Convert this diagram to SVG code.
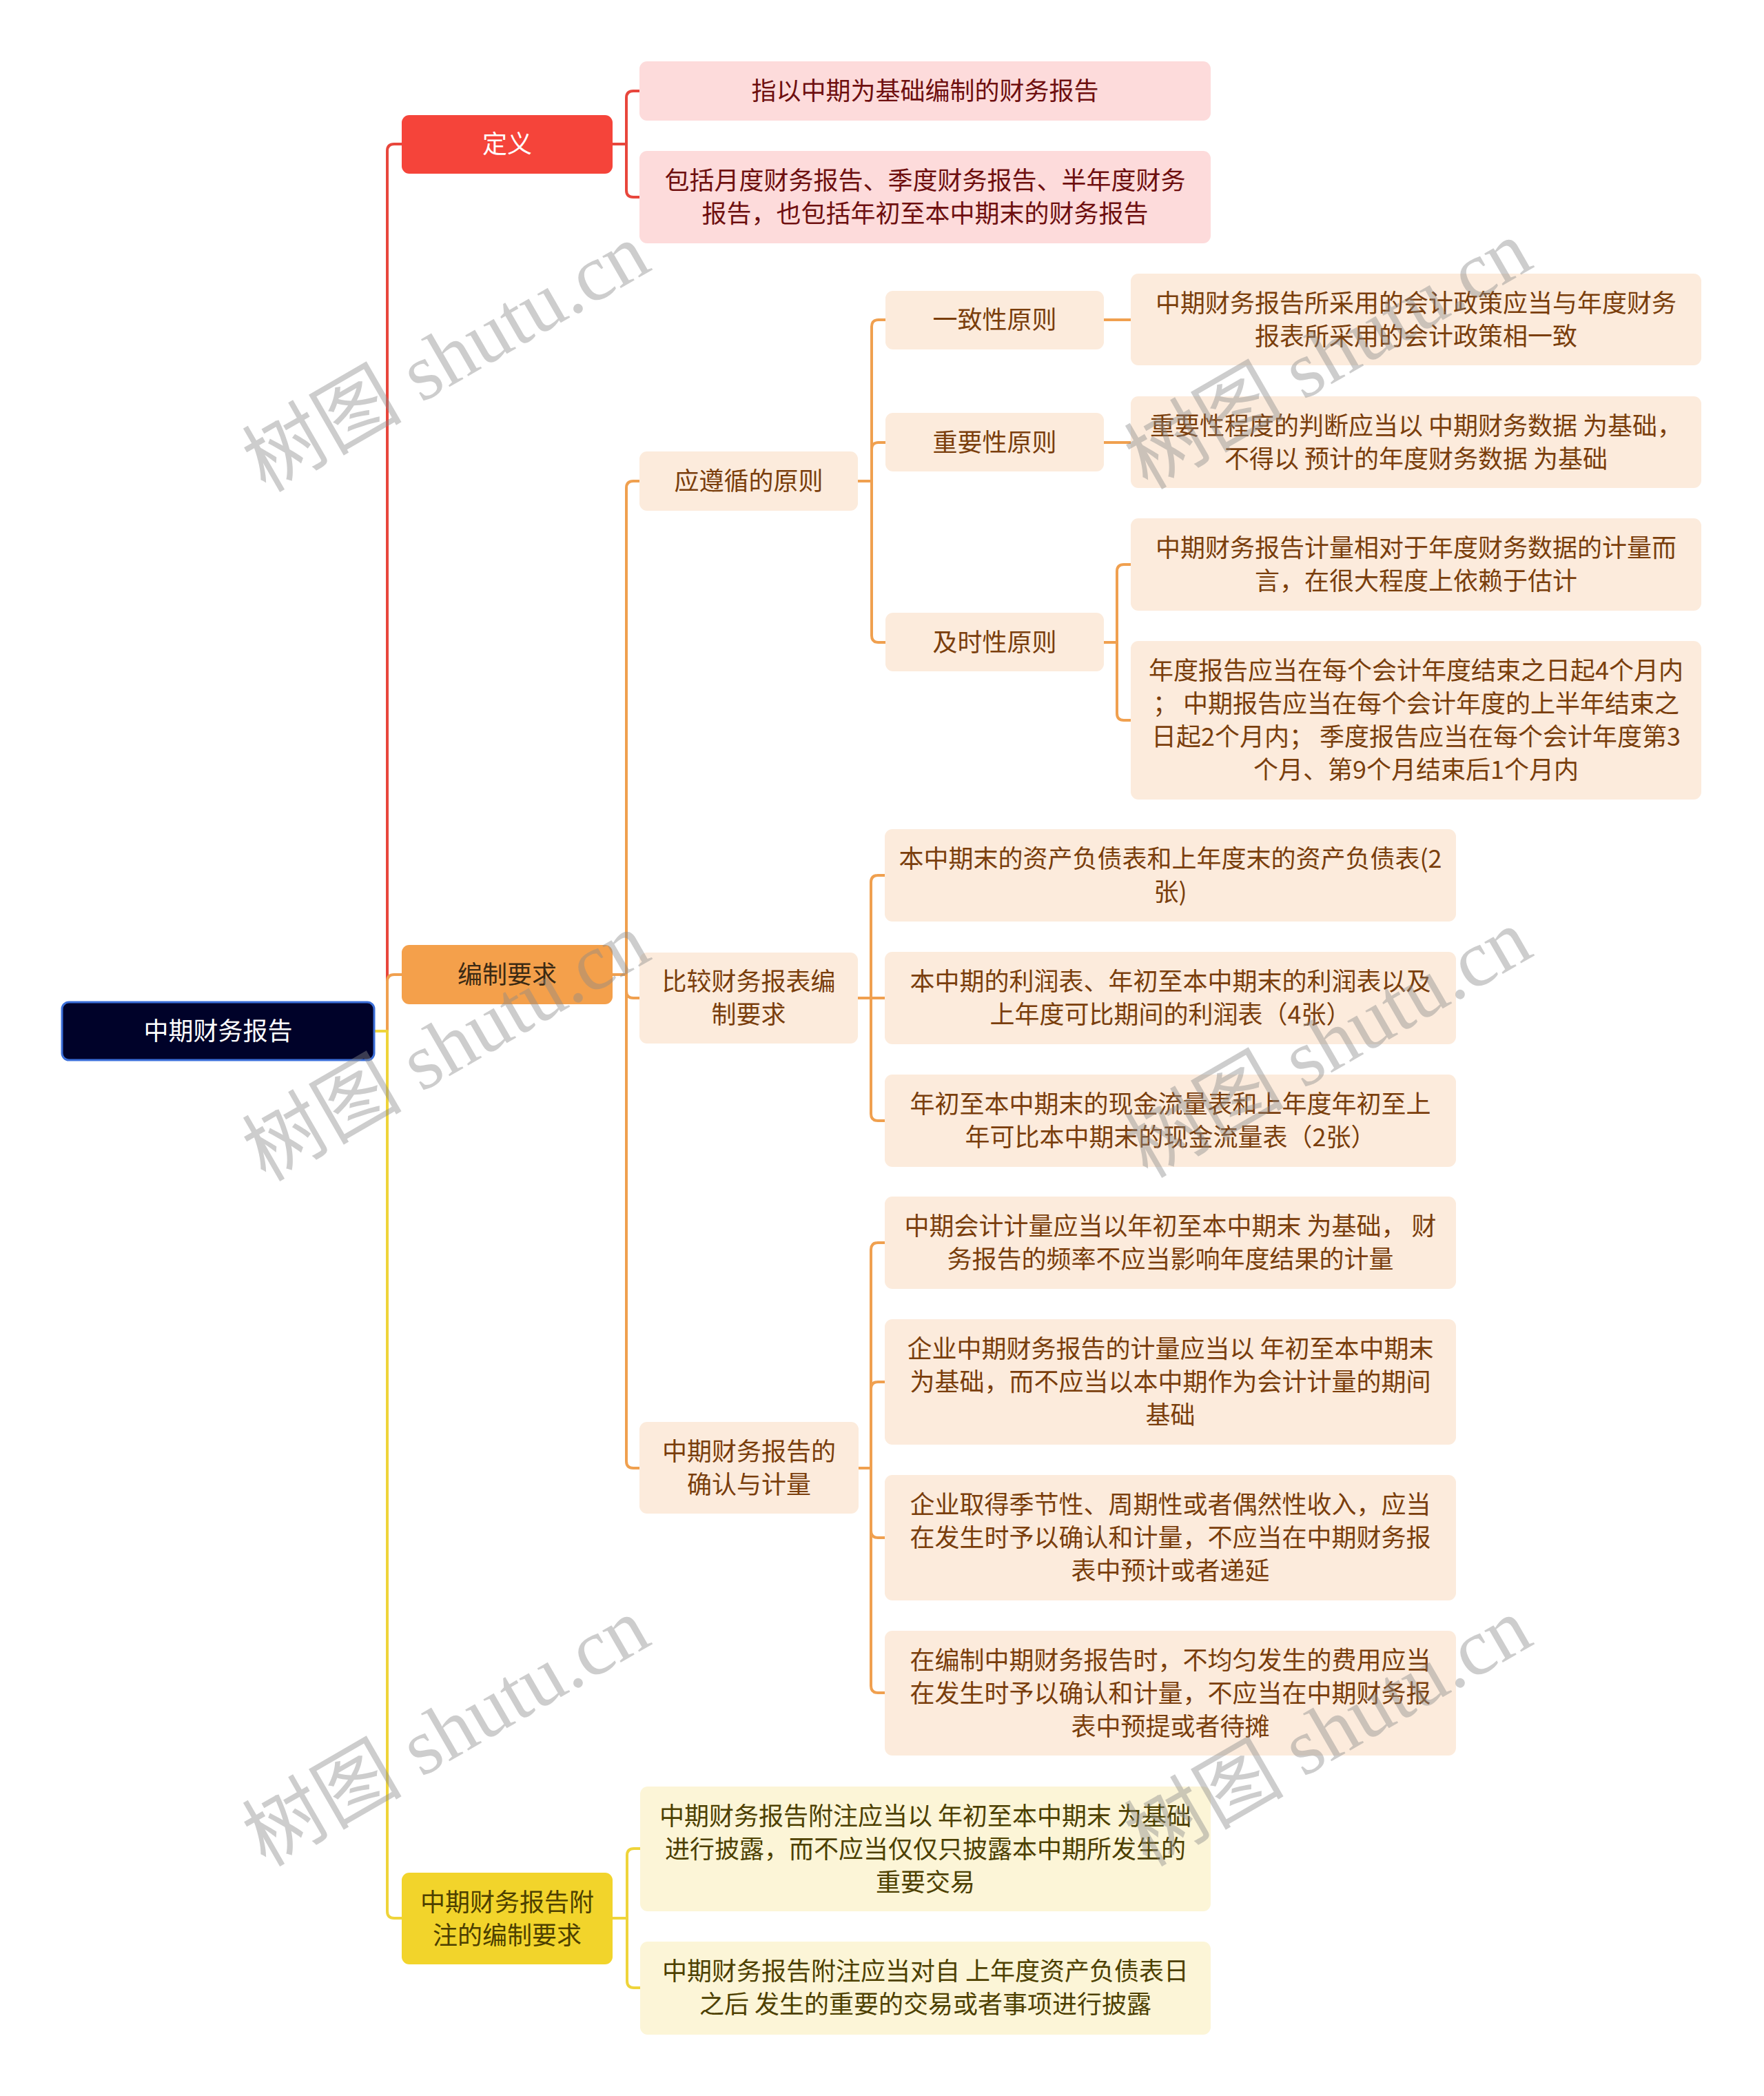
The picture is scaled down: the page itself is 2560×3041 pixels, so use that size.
<svg xmlns="http://www.w3.org/2000/svg" width="2560" height="3041" viewBox="0 0 2560 3041">
<style>
text{font-family:"Noto Sans CJK SC","Noto Sans",sans-serif;font-size:36px;text-anchor:middle}
.c{fill:none;stroke-width:4;stroke-linecap:round;stroke-linejoin:round}
.cr{stroke:#e8463c}.co{stroke:#f0a04f}.cy{stroke:#efd43a}
.root{fill:#000229;stroke:#3b6fd9;stroke-width:3}
.red{fill:#f5443a}.pink{fill:#fddbdb}
.org{fill:#f4a04b}.peach{fill:#fcebdc}
.yel{fill:#f2d42b}.ly{fill:#fcf5d7}
.tw{fill:#ffffff}.tr{fill:#6e0f0f}.tb{fill:#7a3e0c}.tk{fill:#3b2a14}.ty{fill:#4d4000}
.wm{font-family:"Liberation Serif","Noto Sans CJK SC",serif;font-size:116px;fill:#8a8a8a;opacity:0.42}
</style>
<rect width="2560" height="3041" fill="#ffffff"/>
<g id="connectors">
<path class="c cr" d="M543,1496 H562 V219 Q562,209 572,209 H583"/>
<path class="c co" d="M543,1496 H562 V1424 Q562,1414 572,1414 H583"/>
<path class="c cy" d="M543,1496 H562 V2773 Q562,2783 572,2783 H583"/>
<path class="c cr" d="M889,209 H909 V142 Q909,132 919,132 H928"/>
<path class="c cr" d="M889,209 H909 V276 Q909,286 919,286 H928"/>
<path class="c co" d="M889,1414 H909 V708 Q909,698 919,698 H928"/>
<path class="c co" d="M889,1414 H909 V1438 Q909,1448 919,1448 H928"/>
<path class="c co" d="M889,1414 H909 V2120 Q909,2130 919,2130 H928"/>
<path class="c co" d="M1245,698 H1265 V474 Q1265,464 1275,464 H1285"/>
<path class="c co" d="M1245,698 H1265 V652 Q1265,642 1275,642 H1285"/>
<path class="c co" d="M1245,698 H1265 V922 Q1265,932 1275,932 H1285"/>
<path class="c co" d="M1602,464 H1641"/>
<path class="c co" d="M1602,642 H1641"/>
<path class="c co" d="M1602,932 H1621 V829 Q1621,819 1631,819 H1641"/>
<path class="c co" d="M1602,932 H1621 V1035 Q1621,1045 1631,1045 H1641"/>
<path class="c co" d="M1245,1448 H1264 V1280 Q1264,1270 1274,1270 H1284"/>
<path class="c co" d="M1245,1448 H1284"/>
<path class="c co" d="M1245,1448 H1264 V1616 Q1264,1626 1274,1626 H1284"/>
<path class="c co" d="M1246,2130 H1264 V1813 Q1264,1803 1274,1803 H1284"/>
<path class="c co" d="M1246,2130 H1264 V2015 Q1264,2005 1274,2005 H1284"/>
<path class="c co" d="M1246,2130 H1264 V2221 Q1264,2231 1274,2231 H1284"/>
<path class="c co" d="M1246,2130 H1264 V2446 Q1264,2456 1274,2456 H1284"/>
<path class="c cy" d="M888,2783 H910 V2692 Q910,2682 920,2682 H929"/>
<path class="c cy" d="M888,2783 H910 V2874 Q910,2884 920,2884 H929"/>
</g>
<g id="root"><rect class="root" x="90" y="1454" width="453" height="84" rx="10"/><text class="tw" x="316.5" y="1509">中期财务报告</text></g>
<g id="n-dingyi"><rect class="red" x="583" y="167" width="306" height="85" rx="11"/><text class="tw" x="736" y="222">定义</text></g>
<g id="n-d1"><rect class="pink" x="928" y="89" width="829" height="86" rx="11"/><text class="tr" x="1342.5" y="145">指以中期为基础编制的财务报告</text></g>
<g id="n-d2"><rect class="pink" x="928" y="219" width="829" height="134" rx="11"/><text class="tr" x="1342.5"><tspan x="1342.5" y="275">包括月度财务报告、季度财务报告、半年度财务</tspan><tspan x="1342.5" y="323">报告，也包括年初至本中期末的财务报告</tspan></text></g>
<g id="n-bianzhi"><rect class="org" x="583" y="1371" width="306" height="86" rx="11"/><text class="tk" x="736" y="1427">编制要求</text></g>
<g id="n-yuanze"><rect class="peach" x="928" y="655" width="317" height="86" rx="11"/><text class="tb" x="1086.5" y="711">应遵循的原则</text></g>
<g id="n-yizhi"><rect class="peach" x="1285" y="422" width="317" height="85" rx="11"/><text class="tb" x="1443.5" y="477">一致性原则</text></g>
<g id="n-yizhi-1"><rect class="peach" x="1641" y="397" width="828" height="133" rx="11"/><text class="tb"><tspan x="2055" y="453">中期财务报告所采用的会计政策应当与年度财务</tspan><tspan x="2055" y="501">报表所采用的会计政策相一致</tspan></text></g>
<g id="n-zhongyao"><rect class="peach" x="1285" y="599" width="317" height="85" rx="11"/><text class="tb" x="1443.5" y="655">重要性原则</text></g>
<g id="n-zhongyao-1"><rect class="peach" x="1641" y="575" width="828" height="133" rx="11"/><text class="tb"><tspan x="2055" y="631">重要性程度的判断应当以 中期财务数据 为基础，</tspan><tspan x="2055" y="679">不得以 预计的年度财务数据 为基础</tspan></text></g>
<g id="n-jishi"><rect class="peach" x="1285" y="889" width="317" height="85" rx="11"/><text class="tb" x="1443.5" y="945">及时性原则</text></g>
<g id="n-jishi-1"><rect class="peach" x="1641" y="752" width="828" height="134" rx="11"/><text class="tb"><tspan x="2055" y="808">中期财务报告计量相对于年度财务数据的计量而</tspan><tspan x="2055" y="856">言，在很大程度上依赖于估计</tspan></text></g>
<g id="n-jishi-2"><rect class="peach" x="1641" y="930" width="828" height="230" rx="11"/><text class="tb"><tspan x="2055" y="986">年度报告应当在每个会计年度结束之日起4个月内</tspan><tspan x="2055" y="1034">；  中期报告应当在每个会计年度的上半年结束之</tspan><tspan x="2055" y="1082">日起2个月内；  季度报告应当在每个会计年度第3</tspan><tspan x="2055" y="1130">个月、第9个月结束后1个月内</tspan></text></g>
<g id="n-bijiao"><rect class="peach" x="928" y="1382" width="317" height="132" rx="11"/><text class="tb"><tspan x="1086.5" y="1437">比较财务报表编</tspan><tspan x="1086.5" y="1485">制要求</tspan></text></g>
<g id="n-bijiao-1"><rect class="peach" x="1284" y="1203" width="829" height="134" rx="11"/><text class="tb"><tspan x="1698.5" y="1259">本中期末的资产负债表和上年度末的资产负债表(2</tspan><tspan x="1698.5" y="1307">张)</tspan></text></g>
<g id="n-bijiao-2"><rect class="peach" x="1284" y="1381" width="829" height="134" rx="11"/><text class="tb"><tspan x="1698.5" y="1437">本中期的利润表、年初至本中期末的利润表以及</tspan><tspan x="1698.5" y="1485">上年度可比期间的利润表（4张）</tspan></text></g>
<g id="n-bijiao-3"><rect class="peach" x="1284" y="1559" width="829" height="134" rx="11"/><text class="tb"><tspan x="1698.5" y="1615">年初至本中期末的现金流量表和上年度年初至上</tspan><tspan x="1698.5" y="1663">年可比本中期末的现金流量表（2张）</tspan></text></g>
<g id="n-queren"><rect class="peach" x="928" y="2063" width="318" height="133" rx="11"/><text class="tb"><tspan x="1087" y="2119">中期财务报告的</tspan><tspan x="1087" y="2167">确认与计量</tspan></text></g>
<g id="n-queren-1"><rect class="peach" x="1284" y="1736" width="829" height="134" rx="11"/><text class="tb"><tspan x="1698.5" y="1792">中期会计计量应当以年初至本中期末 为基础， 财</tspan><tspan x="1698.5" y="1840">务报告的频率不应当影响年度结果的计量</tspan></text></g>
<g id="n-queren-2"><rect class="peach" x="1284" y="1914" width="829" height="182" rx="11"/><text class="tb"><tspan x="1698.5" y="1970">企业中期财务报告的计量应当以 年初至本中期末</tspan><tspan x="1698.5" y="2018">为基础，而不应当以本中期作为会计计量的期间</tspan><tspan x="1698.5" y="2066">基础</tspan></text></g>
<g id="n-queren-3"><rect class="peach" x="1284" y="2140" width="829" height="182" rx="11"/><text class="tb"><tspan x="1698.5" y="2196">企业取得季节性、周期性或者偶然性收入，应当</tspan><tspan x="1698.5" y="2244">在发生时予以确认和计量，不应当在中期财务报</tspan><tspan x="1698.5" y="2292">表中预计或者递延</tspan></text></g>
<g id="n-queren-4"><rect class="peach" x="1284" y="2366" width="829" height="181" rx="11"/><text class="tb"><tspan x="1698.5" y="2422">在编制中期财务报告时，不均匀发生的费用应当</tspan><tspan x="1698.5" y="2470">在发生时予以确认和计量，不应当在中期财务报</tspan><tspan x="1698.5" y="2518">表中预提或者待摊</tspan></text></g>
<g id="n-fuzhu"><rect class="yel" x="583" y="2717" width="306" height="133" rx="11"/><text class="ty"><tspan x="736" y="2773">中期财务报告附</tspan><tspan x="736" y="2821">注的编制要求</tspan></text></g>
<g id="n-fuzhu-1"><rect class="ly" x="929" y="2592" width="828" height="181" rx="11"/><text class="ty"><tspan x="1343" y="2648">中期财务报告附注应当以 年初至本中期末 为基础</tspan><tspan x="1343" y="2696">进行披露，而不应当仅仅只披露本中期所发生的</tspan><tspan x="1343" y="2744">重要交易</tspan></text></g>
<g id="n-fuzhu-2"><rect class="ly" x="929" y="2817" width="828" height="135" rx="11"/><text class="ty"><tspan x="1343" y="2873">中期财务报告附注应当对自 上年度资产负债表日</tspan><tspan x="1343" y="2921">之后 发生的重要的交易或者事项进行披露</tspan></text></g>
<g id="watermarks">
<text class="wm" transform="translate(648,520) rotate(-30)" x="0" y="38">树图 shutu.cn</text>
<text class="wm" transform="translate(1928,516) rotate(-30)" x="0" y="38">树图 shutu.cn</text>
<text class="wm" transform="translate(648,1520) rotate(-30)" x="0" y="38">树图 shutu.cn</text>
<text class="wm" transform="translate(1928,1515) rotate(-30)" x="0" y="38">树图 shutu.cn</text>
<text class="wm" transform="translate(648,2514) rotate(-30)" x="0" y="38">树图 shutu.cn</text>
<text class="wm" transform="translate(1928,2514) rotate(-30)" x="0" y="38">树图 shutu.cn</text>
</g>
</svg>
